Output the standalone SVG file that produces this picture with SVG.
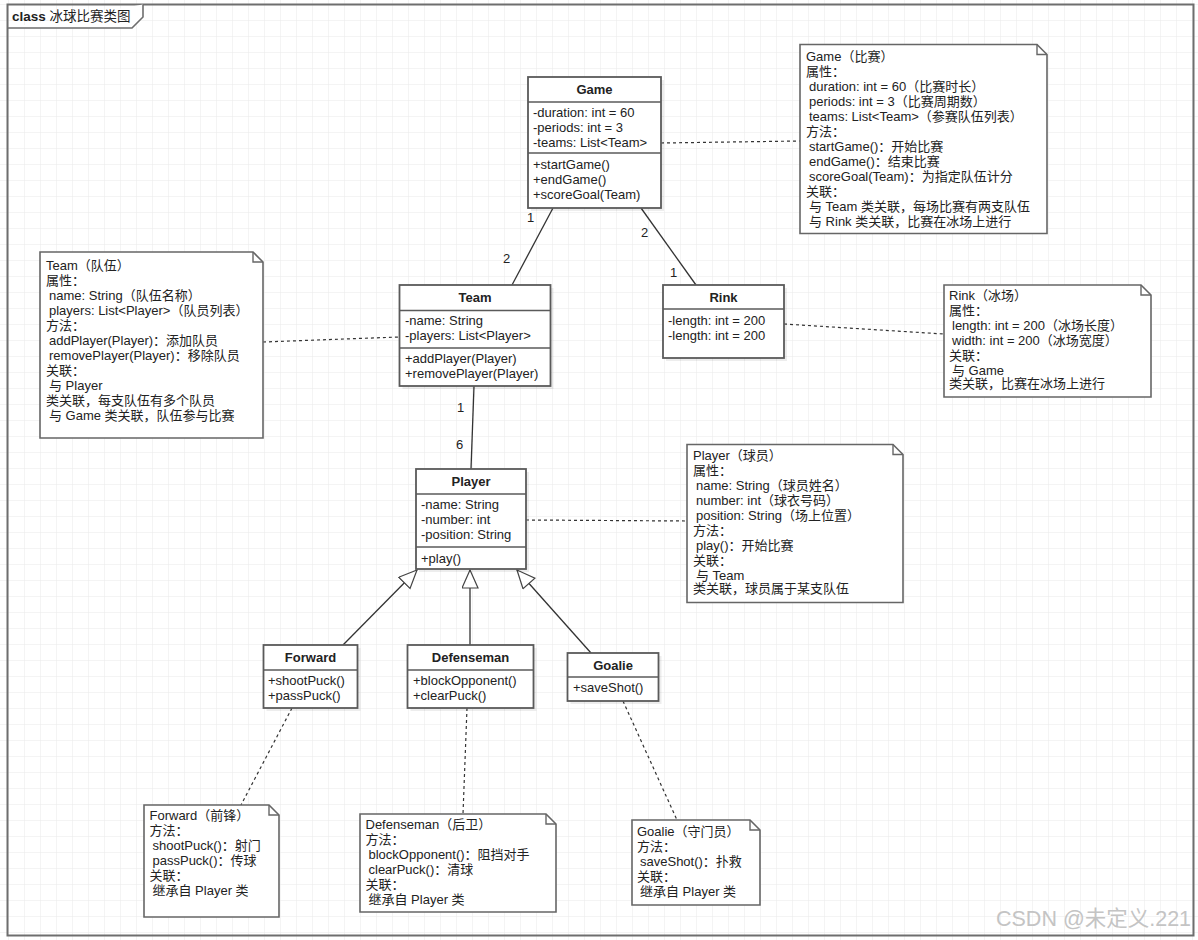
<svg xmlns="http://www.w3.org/2000/svg" width="1198" height="940" viewBox="0 0 1198 940">
<defs>
<pattern id="grid" x="8" y="4" width="16" height="16" patternUnits="userSpaceOnUse">
<path d="M0,0 H16 M0,0 V16" fill="none" stroke="#e9e9e9" stroke-width="1"/>
</pattern>
<marker id="gen" markerWidth="20" markerHeight="18" refX="19" refY="8.5" orient="auto" markerUnits="userSpaceOnUse">
<path d="M1,0.5 L19,8.5 L1,16.5 Z" fill="#fff" stroke="#444" stroke-width="1.2"/>
</marker>
</defs>
<style>
text{font-family:"Liberation Sans","Noto Sans CJK SC",sans-serif;font-size:13px;fill:#222}
.t{font-weight:bold;text-anchor:middle;font-size:13px}
.box{fill:#fff;stroke:#5a5a5a;stroke-width:1.8}
.div{stroke:#5a5a5a;stroke-width:1.6}
.sh{fill:#000;opacity:0.07}
.note{fill:#fff;stroke:#666;stroke-width:1.6}
.fold{fill:none;stroke:#666;stroke-width:1.4}
.as{stroke:#333;stroke-width:1.3;fill:none}
.dash{stroke:#333;stroke-width:1.2;stroke-dasharray:3 3;fill:none}
.wm{font-size:21.5px;fill:#c4c4c4}
</style>
<rect width="1198" height="940" fill="#fff"/>
<rect width="1198" height="940" fill="url(#grid)"/>
<g id="frame">
<rect x="7.5" y="4.5" width="1186" height="931" fill="none" stroke="#6e6e6e" stroke-width="2"/>
<path d="M7.5,28 H132 L143,17 V4.5" fill="#fff" stroke="#6e6e6e" stroke-width="1.6"/>
<text x="12" y="21" style="font-size:13.5px"><tspan font-weight="bold">class</tspan> 冰球比赛类图</text>
</g>
<g id="connectors">
<line class="as" x1="553" y1="208" x2="512" y2="285"/>
<line class="as" x1="641" y1="208" x2="696" y2="285"/>
<line class="as" x1="474" y1="386" x2="471" y2="469"/>
<line class="as" x1="343" y1="645" x2="417" y2="570" marker-end="url(#gen)"/>
<line class="as" x1="470" y1="645" x2="470" y2="570" marker-end="url(#gen)"/>
<line class="as" x1="591" y1="653" x2="517" y2="570" marker-end="url(#gen)"/>
<line class="dash" x1="661" y1="143" x2="800" y2="141"/>
<line class="dash" x1="263" y1="342" x2="399" y2="337"/>
<line class="dash" x1="784" y1="324" x2="944" y2="334"/>
<line class="dash" x1="526" y1="520" x2="687" y2="521"/>
<line class="dash" x1="292" y1="708" x2="241" y2="805"/>
<line class="dash" x1="467" y1="708" x2="463" y2="814"/>
<line class="dash" x1="623" y1="701" x2="677" y2="820"/>
<text x="527" y="222">1</text>
<text x="503" y="263">2</text>
<text x="641" y="237">2</text>
<text x="670" y="277">1</text>
<text x="457" y="412">1</text>
<text x="456" y="449">6</text>
</g>
<g id="Game">
<rect class="sh" x="531" y="80" width="133" height="131"/>
<rect class="box" x="528" y="77" width="133" height="131"/>
<line class="div" x1="528" y1="102" x2="661" y2="102"/>
<line class="div" x1="528" y1="153" x2="661" y2="153"/>
<text class="t" x="594.5" y="94">Game</text>
<text x="533" y="117">-duration: int = 60</text>
<text x="533" y="132">-periods: int = 3</text>
<text x="533" y="147">-teams: List&lt;Team&gt;</text>
<text x="533" y="169">+startGame()</text>
<text x="533" y="184">+endGame()</text>
<text x="533" y="199">+scoreGoal(Team)</text>
</g>
<g id="Team">
<rect class="sh" x="402.5" y="288" width="151" height="101"/>
<rect class="box" x="399.5" y="285" width="151" height="101"/>
<line class="div" x1="399.5" y1="310.5" x2="550.5" y2="310.5"/>
<line class="div" x1="399.5" y1="348" x2="550.5" y2="348"/>
<text class="t" x="475" y="302">Team</text>
<text x="405" y="325">-name: String</text>
<text x="405" y="340">-players: List&lt;Player&gt;</text>
<text x="405" y="363">+addPlayer(Player)</text>
<text x="405" y="378">+removePlayer(Player)</text>
</g>
<g id="Rink">
<rect class="sh" x="666" y="288" width="121" height="73"/>
<rect class="box" x="663" y="285" width="121" height="73"/>
<line class="div" x1="663" y1="309" x2="784" y2="309"/>
<text class="t" x="723.5" y="302">Rink</text>
<text x="668" y="325">-length: int = 200</text>
<text x="668" y="340">-length: int = 200</text>
</g>
<g id="Player">
<rect class="sh" x="419" y="472" width="110" height="100"/>
<rect class="box" x="416" y="469" width="110" height="100"/>
<line class="div" x1="416" y1="494" x2="526" y2="494"/>
<line class="div" x1="416" y1="547" x2="526" y2="547"/>
<text class="t" x="471" y="486">Player</text>
<text x="421" y="509">-name: String</text>
<text x="421" y="524">-number: int</text>
<text x="421" y="539">-position: String</text>
<text x="421" y="563">+play()</text>
</g>
<g id="Forward">
<rect class="sh" x="266.5" y="648" width="94" height="63"/>
<rect class="box" x="263.5" y="645" width="94" height="63"/>
<line class="div" x1="263.5" y1="670" x2="357.5" y2="670"/>
<text class="t" x="310.5" y="662">Forward</text>
<text x="268" y="685">+shootPuck()</text>
<text x="268" y="700">+passPuck()</text>
</g>
<g id="Defenseman">
<rect class="sh" x="410.5" y="648" width="126" height="63"/>
<rect class="box" x="407.5" y="645" width="126" height="63"/>
<line class="div" x1="407.5" y1="670" x2="533.5" y2="670"/>
<text class="t" x="470.5" y="662">Defenseman</text>
<text x="413" y="685">+blockOpponent()</text>
<text x="413" y="700">+clearPuck()</text>
</g>
<g id="Goalie">
<rect class="sh" x="570.5" y="656" width="91" height="48"/>
<rect class="box" x="567.5" y="653" width="91" height="48"/>
<line class="div" x1="567.5" y1="677" x2="658.5" y2="677"/>
<text class="t" x="613" y="670">Goalie</text>
<text x="573" y="692">+saveShot()</text>
</g>
<g id="GameNote">
<path class="note" d="M800,44.5 H1037 L1047,54.5 V233.5 H800 Z"/>
<path class="fold" d="M1037,44.5 V54.5 H1047"/>
<text x="806" y="61">Game（比赛）</text>
<text x="806" y="76">属性：</text>
<text x="809" y="91">duration: int = 60（比赛时长）</text>
<text x="809" y="106">periods: int = 3（比赛周期数）</text>
<text x="809" y="121">teams: List&lt;Team&gt;（参赛队伍列表）</text>
<text x="806" y="136">方法：</text>
<text x="809" y="151">startGame()：开始比赛</text>
<text x="809" y="166">endGame()：结束比赛</text>
<text x="809" y="181">scoreGoal(Team)：为指定队伍计分</text>
<text x="806" y="196">关联：</text>
<text x="809" y="211">与 Team 类关联，每场比赛有两支队伍</text>
<text x="809" y="226">与 Rink 类关联，比赛在冰场上进行</text>
</g>
<g id="TeamNote">
<path class="note" d="M40,252 H253 L263,262 V438 H40 Z"/>
<path class="fold" d="M253,252 V262 H263"/>
<text x="46" y="270">Team（队伍）</text>
<text x="46" y="285">属性：</text>
<text x="49" y="300">name: String（队伍名称）</text>
<text x="49" y="315">players: List&lt;Player&gt;（队员列表）</text>
<text x="46" y="330">方法：</text>
<text x="49" y="345">addPlayer(Player)：添加队员</text>
<text x="49" y="360">removePlayer(Player)：移除队员</text>
<text x="46" y="375">关联：</text>
<text x="49" y="390">与 Player</text>
<text x="46" y="405">类关联，每支队伍有多个队员</text>
<text x="49" y="420">与 Game 类关联，队伍参与比赛</text>
</g>
<g id="RinkNote">
<path class="note" d="M944,285 H1141 L1151,295 V397 H944 Z"/>
<path class="fold" d="M1141,285 V295 H1151"/>
<text x="949" y="300">Rink（冰场）</text>
<text x="949" y="315">属性：</text>
<text x="952" y="330">length: int = 200（冰场长度）</text>
<text x="952" y="345">width: int = 200（冰场宽度）</text>
<text x="949" y="360">关联：</text>
<text x="952" y="374.5">与 Game</text>
<text x="949" y="388">类关联，比赛在冰场上进行</text>
</g>
<g id="PlayerNote">
<path class="note" d="M687,444.5 H893 L903,454.5 V602.5 H687 Z"/>
<path class="fold" d="M893,444.5 V454.5 H903"/>
<text x="693" y="459.5">Player（球员）</text>
<text x="693" y="474.5">属性：</text>
<text x="696" y="489.5">name: String（球员姓名）</text>
<text x="696" y="504.5">number: int（球衣号码）</text>
<text x="696" y="519.5">position: String（场上位置）</text>
<text x="693" y="534.5">方法：</text>
<text x="696" y="549.5">play()：开始比赛</text>
<text x="693" y="564.5">关联：</text>
<text x="696" y="579.5">与 Team</text>
<text x="693" y="592.5">类关联，球员属于某支队伍</text>
</g>
<g id="ForwardNote">
<path class="note" d="M144,805 H269 L279,815 V917 H144 Z"/>
<path class="fold" d="M269,805 V815 H279"/>
<text x="149.5" y="819.5">Forward（前锋）</text>
<text x="149.5" y="834.5">方法：</text>
<text x="152.5" y="849.5">shootPuck()：射门</text>
<text x="152.5" y="864.5">passPuck()：传球</text>
<text x="149.5" y="879.5">关联：</text>
<text x="152.5" y="894.5">继承自 Player 类</text>
</g>
<g id="DefensemanNote">
<path class="note" d="M360,814 H546 L556,824 V912 H360 Z"/>
<path class="fold" d="M546,814 V824 H556"/>
<text x="365.5" y="828.5">Defenseman（后卫）</text>
<text x="365.5" y="843.5">方法：</text>
<text x="368.5" y="858.5">blockOpponent()：阻挡对手</text>
<text x="368.5" y="873.5">clearPuck()：清球</text>
<text x="365.5" y="888.5">关联：</text>
<text x="368.5" y="903.5">继承自 Player 类</text>
</g>
<g id="GoalieNote">
<path class="note" d="M632,820 H750 L760,830 V905 H632 Z"/>
<path class="fold" d="M750,820 V830 H760"/>
<text x="637" y="835.5">Goalie（守门员）</text>
<text x="637" y="850.5">方法：</text>
<text x="640" y="865.5">saveShot()：扑救</text>
<text x="637" y="880.5">关联：</text>
<text x="640" y="895.5">继承自 Player 类</text>
</g>
<text class="wm" x="996" y="926">CSDN @未定义.221</text>
</svg>
